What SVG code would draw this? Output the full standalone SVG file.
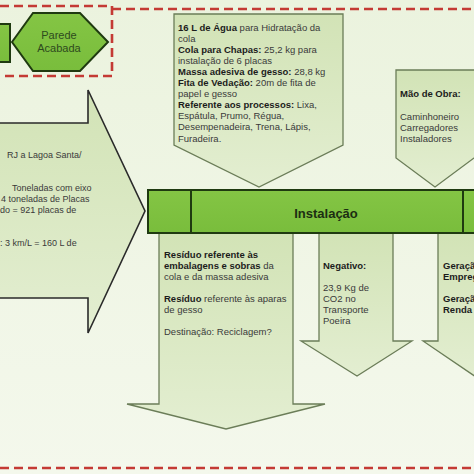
<svg xmlns="http://www.w3.org/2000/svg" width="474" height="474" viewBox="0 0 474 474">
<defs>
<linearGradient id="bg" x1="0" y1="0" x2="0" y2="1"><stop offset="0" stop-color="#ebf3de"/><stop offset="1" stop-color="#f4f8ec"/></linearGradient>
<linearGradient id="af" x1="0" y1="0" x2="0" y2="1"><stop offset="0" stop-color="#d2e3b6"/><stop offset="1" stop-color="#e3eed1"/></linearGradient>
<linearGradient id="gf" x1="0" y1="0" x2="0" y2="1"><stop offset="0" stop-color="#84c544"/><stop offset="1" stop-color="#79bd3c"/></linearGradient>
</defs>
<style>
text{font-family:"Liberation Sans",Arial,sans-serif;fill:#3a3a3a;font-size:9.5px}
.b{font-weight:bold;fill:#1c1c1c}
.arr{fill:url(#af);stroke:#6b7d58;stroke-width:1.3}
.big{fill:url(#af);stroke:#2a2a2a;stroke-width:1.6}
.grn{fill:url(#gf);stroke:#1f3a10;stroke-width:2}
.dash{fill:none;stroke:#c43a34;stroke-width:2.6;stroke-dasharray:9 5}
</style>
<rect width="474" height="474" fill="url(#bg)"/>
<g id="frames">
<path class="dash" d="M0,6 H112 V76 H0"/>
<path class="dash" d="M112,9 H474"/>
<path class="dash" d="M0,468 H474"/>
</g>
<g id="connectors"></g>
<g id="prev-step">
<rect class="grn" x="-4" y="24" width="14" height="38"/>
</g>
<g id="parede-acabada">
<polygon class="grn" points="12,42 33,13 80,13 108,42 80,71 33,71"/>
<text x="59" y="39" text-anchor="middle" style="font-size:11px;fill:#2e4a1e">Parede</text>
<text x="59" y="52" text-anchor="middle" style="font-size:11px;fill:#2e4a1e">Acabada</text>
</g>
<g id="transporte">
<path class="big" d="M-2,123 H88 V90 L145,211 L88,333 V298 H-2 Z"/>
<text x="7" y="158" style="font-size:9px">RJ a Lagoa Santa/</text>
<text x="12" y="191" style="font-size:9px">Toneladas com eixo</text>
<text x="1" y="202" style="font-size:9px">4 toneladas de Placas</text>
<text x="0" y="213" style="font-size:9px">do = 921 placas de</text>
<text x="0" y="246" style="font-size:9px">: 3 km/L = 160 L de</text>
</g>
<g id="insumos">
<path class="arr" d="M174,14 H343 V145 L259,187 L174,145 Z"/>
<text x="178" y="31"><tspan class="b">16 L de Água</tspan> para Hidratação da</text>
<text x="178" y="42">cola</text>
<text x="178" y="53"><tspan class="b">Cola para Chapas:</tspan> 25,2 kg para</text>
<text x="178" y="64">instalação de 6 placas</text>
<text x="178" y="75"><tspan class="b">Massa adesiva de gesso:</tspan> 28,8 kg</text>
<text x="178" y="86"><tspan class="b">Fita de Vedação:</tspan> 20m de fita de</text>
<text x="178" y="97">papel e gesso</text>
<text x="178" y="108"><tspan class="b">Referente aos processos:</tspan> Lixa,</text>
<text x="178" y="119">Espátula, Prumo, Régua,</text>
<text x="178" y="130">Desempenadeira, Trena, Lápis,</text>
<text x="178" y="142">Furadeira.</text>
</g>
<g id="mao-de-obra">
<path class="arr" d="M396,70 H480 V153.5 L435,187 L396,158 Z"/>
<text x="400" y="97" class="b">Mão de Obra:</text>
<text x="400" y="120">Caminhoneiro</text>
<text x="400" y="131">Carregadores</text>
<text x="400" y="142">Instaladores</text>
</g>
<g id="residuos">
<path class="arr" d="M159,233 V404 H127 L226,429 L325,404 H293 V233"/>
<text x="164" y="258" class="b">Resíduo referente  às</text>
<text x="164" y="269"><tspan class="b">embalagens e sobras</tspan> da</text>
<text x="164" y="280">cola e da massa adesiva</text>
<text x="164" y="302"><tspan class="b">Resíduo</tspan> referente às aparas</text>
<text x="164" y="313">de gesso</text>
<text x="164" y="335">Destinação: Reciclagem?</text>
</g>
<g id="negativo">
<path class="arr" d="M319,233 V341 H301 L357,376 L412,341 H393 V233"/>
<text x="323" y="269" class="b">Negativo:</text>
<text x="323" y="291">23,9 Kg de</text>
<text x="323" y="302">CO2 no</text>
<text x="323" y="313">Transporte</text>
<text x="323" y="324">Poeira</text>
</g>
<g id="positivo">
<path class="arr" d="M438,233 V341 H423 L476,377 L530,341 H512 V233"/>
<text x="443" y="269" class="b">Geração de</text>
<text x="443" y="280" class="b">Empregos</text>
<text x="443" y="302" class="b">Geração de</text>
<text x="443" y="313" class="b">Renda</text>
</g>
<g id="instalacao">
<rect class="grn" x="148" y="190" width="340" height="43"/>
<line x1="191" y1="190" x2="191" y2="233" stroke="#1f3a10" stroke-width="2"/>
<line x1="463" y1="190" x2="463" y2="233" stroke="#1f3a10" stroke-width="2"/>
<text x="326" y="218" text-anchor="middle" class="b" style="font-size:13px;fill:#1c2e12">Instalação</text>
</g>
</svg>
